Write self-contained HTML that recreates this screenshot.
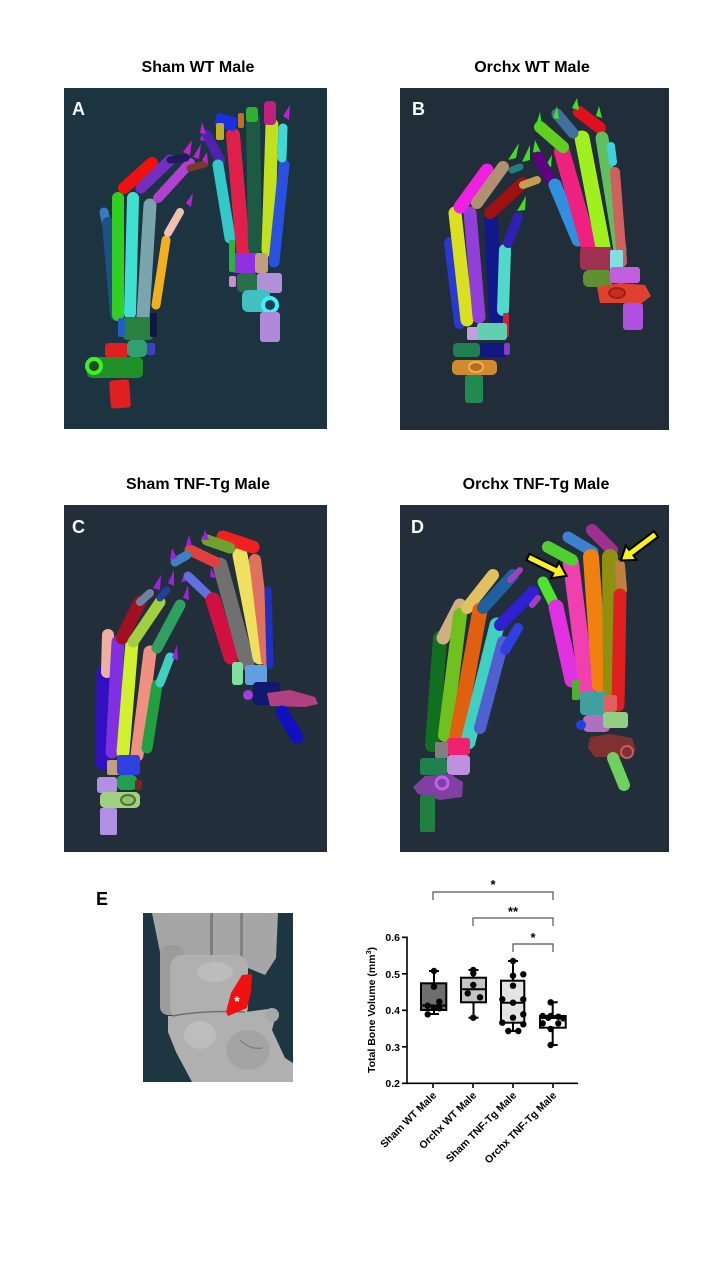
<!DOCTYPE html>
<html><head><meta charset="utf-8"><style>
html,body{margin:0;padding:0;background:#fff;}
svg{display:block;}
.t{font-family:"Liberation Sans",Arial,sans-serif;font-weight:bold;}
.b line{stroke-linecap:round;}
</style></head><body>
<svg width="720" height="1280" viewBox="0 0 720 1280" xmlns="http://www.w3.org/2000/svg">
<rect width="720" height="1280" fill="#fff"/>
<!-- Titles -->
<g class="t" font-size="16" text-anchor="middle" fill="#000">
<text x="198" y="72">Sham WT Male</text>
<text x="532" y="72">Orchx WT Male</text>
<text x="198" y="489">Sham TNF-Tg Male</text>
<text x="536" y="489">Orchx TNF-Tg Male</text>
</g>

<!-- Panel A -->
<rect x="64" y="88" width="263" height="341" fill="#1c3340"/>
<g class="b">
<line x1="104" y1="212" x2="107" y2="226" stroke="#3a7ac0" stroke-width="9"/>
<line x1="108" y1="223" x2="116" y2="315" stroke="#1f4f86" stroke-width="12"/>
<line x1="118" y1="198" x2="118" y2="315" stroke="#30d020" stroke-width="12"/>
<line x1="133" y1="198" x2="130" y2="313" stroke="#40e0d0" stroke-width="12"/>
<line x1="150" y1="205" x2="143" y2="317" stroke="#7aa5ad" stroke-width="13"/>
<line x1="166" y1="240" x2="156" y2="305" stroke="#f0b020" stroke-width="9"/>
<line x1="180" y1="212" x2="168" y2="233" stroke="#f0c0b0" stroke-width="8"/>
<line x1="152" y1="163" x2="124" y2="188" stroke="#f01010" stroke-width="12"/>
<line x1="170" y1="160" x2="141" y2="188" stroke="#7030c0" stroke-width="11"/>
<line x1="190" y1="163" x2="158" y2="198" stroke="#b040d0" stroke-width="10"/>
<line x1="205" y1="164" x2="190" y2="168" stroke="#7a3a2a" stroke-width="7"/>
<line x1="186" y1="158" x2="170" y2="160" stroke="#201860" stroke-width="7"/>
<polygon points="183,152 192,140 190,155" fill="#c020d0"/>
<polygon points="193,157 201,144 199,159" fill="#c020d0"/>
<polygon points="200,140 204,128 208,142" fill="#c020d0"/>
<polygon points="186,203 193,193 191,207" fill="#c020d0"/>
<polygon points="202,160 207,152 208,164" fill="#c020d0"/>
<rect x="123" y="317" width="30" height="23" rx="4" fill="#2a8040"/>
<rect x="150" y="313" width="7" height="24" rx="2" fill="#101840"/>
<rect x="118" y="318" width="7" height="19" rx="2" fill="#2060c0"/>
<rect x="147" y="343" width="8" height="12" rx="2" fill="#4040c0"/>
<rect x="105" y="343" width="23" height="15" rx="4" fill="#e02020"/>
<rect x="127" y="340" width="20" height="17" rx="5" fill="#30a070"/>
<rect x="87" y="357" width="56" height="21" rx="5" fill="#20902a"/>
<circle cx="94" cy="366" r="7" fill="#1a4a20" stroke="#40f020" stroke-width="4"/>
<rect x="110" y="380" width="20" height="28" rx="3" fill="#e02020" transform="rotate(-4 120 394)"/>
<!-- right hand A -->
<line x1="207" y1="135" x2="220" y2="160" stroke="#5020b0" stroke-width="10"/>
<line x1="218" y1="165" x2="230" y2="238" stroke="#30c8c8" stroke-width="11"/>
<line x1="233" y1="135" x2="243" y2="250" stroke="#e0204a" stroke-width="14"/>
<line x1="253" y1="118" x2="255" y2="247" stroke="#1c5a44" stroke-width="14"/>
<line x1="272" y1="125" x2="268" y2="250" stroke="#c0e020" stroke-width="13"/>
<line x1="284" y1="165" x2="274" y2="262" stroke="#2a50e0" stroke-width="11"/>
<line x1="283" y1="128" x2="282" y2="158" stroke="#40d8d8" stroke-width="9"/>
<rect x="215" y="115" width="22" height="14" rx="3" fill="#1830e0" transform="rotate(15 226 122)"/>
<rect x="216" y="123" width="8" height="17" rx="2" fill="#c0b020"/>
<rect x="264" y="101" width="12" height="24" rx="4" fill="#c02080"/>
<rect x="246" y="107" width="12" height="15" rx="3" fill="#30b030"/>
<rect x="238" y="113" width="6" height="15" rx="2" fill="#c07020"/>
<polygon points="283,116 290,105 289,120" fill="#c020d0"/>
<polygon points="200,133 202,122 206,134" fill="#c020d0"/>
<rect x="232" y="253" width="28" height="20" rx="3" fill="#9030e0"/>
<rect x="255" y="253" width="13" height="20" rx="3" fill="#c0a080"/>
<rect x="229" y="240" width="6" height="32" rx="2" fill="#30b040"/>
<rect x="237" y="273" width="20" height="19" rx="4" fill="#2a6e4a"/>
<rect x="257" y="273" width="25" height="20" rx="3" fill="#b090d8"/>
<rect x="229" y="276" width="7" height="11" rx="2" fill="#c090d0"/>
<rect x="242" y="290" width="28" height="22" rx="6" fill="#40c0c0"/>
<circle cx="270" cy="305" r="7" fill="#1a4050" stroke="#40f0ff" stroke-width="4"/>
<rect x="260" y="312" width="20" height="30" rx="3" fill="#b08ad8"/>
</g>
<text class="t" x="72" y="115" font-size="18" fill="#fff">A</text>

<!-- Panel B -->
<rect x="400" y="88" width="269" height="342" fill="#212d39"/>
<g class="b">
<line x1="450" y1="243" x2="460" y2="323" stroke="#2838d0" stroke-width="12"/>
<line x1="455" y1="213" x2="467" y2="320" stroke="#d8e020" stroke-width="13"/>
<line x1="470" y1="213" x2="479" y2="317" stroke="#9040d8" stroke-width="13"/>
<line x1="491" y1="220" x2="496" y2="318" stroke="#10188a" stroke-width="14"/>
<line x1="505" y1="250" x2="503" y2="310" stroke="#50d8c8" stroke-width="12"/>
<line x1="518" y1="217" x2="508" y2="243" stroke="#3020b0" stroke-width="10"/>
<line x1="487" y1="170" x2="460" y2="207" stroke="#f020e0" stroke-width="13"/>
<line x1="503" y1="167" x2="477" y2="203" stroke="#b09070" stroke-width="12"/>
<line x1="523" y1="183" x2="490" y2="213" stroke="#a01010" stroke-width="12"/>
<line x1="537" y1="180" x2="523" y2="185" stroke="#c0a050" stroke-width="8"/>
<line x1="520" y1="167" x2="512" y2="170" stroke="#208080" stroke-width="7"/>
<polygon points="508,160 519,143 516,158" fill="#40e020"/>
<polygon points="522,162 530,145 530,160" fill="#40e020"/>
<polygon points="535,140 542,155 533,152" fill="#40e020"/>
<polygon points="517,211 526,196 525,210" fill="#40e020"/>
<polygon points="546,165 552,155 551,167" fill="#40e020"/>
<rect x="503" y="313" width="6" height="24" rx="2" fill="#d02040"/>
<rect x="467" y="327" width="13" height="13" rx="2" fill="#c0a0e0"/>
<rect x="477" y="323" width="30" height="17" rx="3" fill="#60d0b0"/>
<rect x="453" y="343" width="27" height="14" rx="4" fill="#208050"/>
<rect x="480" y="343" width="27" height="14" rx="3" fill="#101880"/>
<rect x="504" y="343" width="6" height="12" rx="2" fill="#8040c0"/>
<rect x="452" y="360" width="45" height="15" rx="5" fill="#d08a30"/>
<ellipse cx="476" cy="367" rx="7" ry="5" fill="#b07020" stroke="#f0b050" stroke-width="2"/>
<rect x="465" y="375" width="18" height="28" rx="3" fill="#208a50"/>
<!-- right B -->
<line x1="538" y1="157" x2="550" y2="178" stroke="#600080" stroke-width="11"/>
<line x1="555" y1="185" x2="578" y2="240" stroke="#3090e0" stroke-width="13"/>
<line x1="562" y1="152" x2="590" y2="250" stroke="#f02080" stroke-width="16"/>
<line x1="540" y1="127" x2="563" y2="147" stroke="#60d020" stroke-width="12"/>
<line x1="582" y1="138" x2="603" y2="247" stroke="#a0f020" stroke-width="15"/>
<line x1="557" y1="114" x2="573" y2="133" stroke="#4070a0" stroke-width="11"/>
<line x1="579" y1="112" x2="600" y2="128" stroke="#e01020" stroke-width="12"/>
<line x1="602" y1="138" x2="620" y2="250" stroke="#60c060" stroke-width="13"/>
<line x1="611" y1="146" x2="613" y2="162" stroke="#40d0e0" stroke-width="8"/>
<line x1="615" y1="172" x2="622" y2="262" stroke="#d06060" stroke-width="10"/>
<polygon points="536,125 540,112 542,126" fill="#40e020"/>
<polygon points="553,118 557,106 559,119" fill="#40e020"/>
<polygon points="572,108 577,98 579,110" fill="#40e020"/>
<polygon points="596,116 599,106 602,118" fill="#40e020"/>
<rect x="580" y="247" width="33" height="23" rx="4" fill="#a03050"/>
<rect x="610" y="250" width="13" height="20" rx="2" fill="#80e0e0"/>
<rect x="583" y="270" width="30" height="17" rx="6" fill="#609030"/>
<rect x="610" y="267" width="30" height="16" rx="3" fill="#c060e0"/>
<polygon points="597,287 620,283 645,285 651,296 642,303 600,303" fill="#e04030"/>
<ellipse cx="617" cy="293" rx="8" ry="5" fill="#c03020" stroke="#a02010" stroke-width="2"/>
<rect x="623" y="303" width="20" height="27" rx="3" fill="#b050e0"/>
</g>
<text class="t" x="412" y="115" font-size="18" fill="#fff">B</text>

<!-- Panel C -->
<rect x="64" y="505" width="263" height="347" fill="#222f3b"/>
<g class="b">
<line x1="103" y1="672" x2="102" y2="763" stroke="#3010c0" stroke-width="13"/>
<line x1="108" y1="635" x2="107" y2="672" stroke="#f0b0a0" stroke-width="12"/>
<line x1="118" y1="642" x2="112" y2="752" stroke="#8030e0" stroke-width="13"/>
<line x1="132" y1="642" x2="123" y2="752" stroke="#d0f030" stroke-width="13"/>
<line x1="150" y1="652" x2="137" y2="755" stroke="#f09080" stroke-width="13"/>
<line x1="157" y1="685" x2="147" y2="748" stroke="#20a040" stroke-width="11"/>
<line x1="170" y1="657" x2="160" y2="683" stroke="#40d0c0" stroke-width="9"/>
<line x1="140" y1="602" x2="122" y2="638" stroke="#a01020" stroke-width="13"/>
<line x1="150" y1="593" x2="140" y2="602" stroke="#7080a0" stroke-width="8"/>
<line x1="160" y1="602" x2="133" y2="642" stroke="#a0d040" stroke-width="11"/>
<line x1="167" y1="590" x2="160" y2="598" stroke="#2040a0" stroke-width="7"/>
<line x1="180" y1="605" x2="157" y2="648" stroke="#30a060" stroke-width="11"/>
<polygon points="153,588 161,575 160,590" fill="#a020e0"/>
<polygon points="168,583 174,570 174,586" fill="#a020e0"/>
<polygon points="183,598 188,585 189,600" fill="#a020e0"/>
<polygon points="172,658 177,645 178,660" fill="#a020e0"/>
<polygon points="185,573 181,582 192,580" fill="#a020e0"/>
<rect x="107" y="760" width="13" height="15" rx="2" fill="#c0a080"/>
<rect x="117" y="755" width="23" height="20" rx="3" fill="#3040e0"/>
<rect x="97" y="777" width="20" height="16" rx="3" fill="#b090e0"/>
<rect x="117" y="775" width="20" height="15" rx="5" fill="#20a050"/>
<rect x="135" y="780" width="7" height="10" rx="2" fill="#802020"/>
<rect x="100" y="792" width="40" height="16" rx="5" fill="#a0d080"/>
<ellipse cx="128" cy="800" rx="7" ry="5" fill="#90c070" stroke="#507030" stroke-width="2"/>
<rect x="100" y="808" width="17" height="27" rx="2" fill="#b090e0"/>
<!-- right C -->
<line x1="188" y1="576" x2="210" y2="597" stroke="#6070e0" stroke-width="9"/>
<line x1="213" y1="600" x2="231" y2="657" stroke="#d01040" stroke-width="15"/>
<line x1="220" y1="565" x2="247" y2="663" stroke="#707070" stroke-width="15"/>
<line x1="240" y1="555" x2="260" y2="657" stroke="#f0e060" stroke-width="15"/>
<line x1="255" y1="560" x2="267" y2="660" stroke="#e07060" stroke-width="12"/>
<line x1="268" y1="590" x2="270" y2="665" stroke="#2030c0" stroke-width="7"/>
<line x1="223" y1="537" x2="253" y2="547" stroke="#f02020" stroke-width="13"/>
<line x1="207" y1="540" x2="230" y2="548" stroke="#70a030" stroke-width="11"/>
<line x1="190" y1="550" x2="215" y2="562" stroke="#e04040" stroke-width="11"/>
<line x1="175" y1="562" x2="187" y2="555" stroke="#4080c0" stroke-width="9"/>
<polygon points="170,560 172,548 177,558" fill="#a020e0"/>
<polygon points="186,545 189,535 192,546" fill="#a020e0"/>
<polygon points="202,540 205,530 209,540" fill="#a020e0"/>
<polygon points="211,568 216,578 210,577" fill="#a020e0"/>
<rect x="232" y="662" width="11" height="23" rx="3" fill="#80e0a0"/>
<rect x="245" y="665" width="22" height="20" rx="3" fill="#60a0e0"/>
<circle cx="248" cy="695" r="5" fill="#a040e0"/>
<rect x="253" y="682" width="27" height="23" rx="4" fill="#101870"/>
<polygon points="267,693 290,690 315,697 318,704 305,707 270,706" fill="#b04080"/>
<line x1="282" y1="712" x2="297" y2="737" stroke="#1010c0" stroke-width="13"/>
</g>
<text class="t" x="72" y="533" font-size="18" fill="#fff">C</text>

<!-- Panel D -->
<rect x="400" y="505" width="269" height="347" fill="#222e3a"/>
<g class="b">
<line x1="440" y1="638" x2="432" y2="745" stroke="#107020" stroke-width="14"/>
<line x1="460" y1="605" x2="443" y2="638" stroke="#d0b080" stroke-width="13"/>
<line x1="460" y1="615" x2="445" y2="735" stroke="#70c020" stroke-width="14"/>
<line x1="493" y1="575" x2="467" y2="608" stroke="#e0c060" stroke-width="12"/>
<line x1="480" y1="610" x2="457" y2="735" stroke="#e06010" stroke-width="15"/>
<line x1="513" y1="575" x2="483" y2="608" stroke="#2060a0" stroke-width="12"/>
<line x1="497" y1="625" x2="468" y2="742" stroke="#40d0c0" stroke-width="15"/>
<line x1="533" y1="592" x2="500" y2="625" stroke="#3020d0" stroke-width="12"/>
<line x1="503" y1="642" x2="480" y2="728" stroke="#5060d0" stroke-width="12"/>
<line x1="518" y1="628" x2="505" y2="650" stroke="#3040e0" stroke-width="10"/>
<line x1="520" y1="570" x2="510" y2="580" stroke="#a040c0" stroke-width="6"/>
<line x1="538" y1="598" x2="532" y2="605" stroke="#a040c0" stroke-width="6"/>
<rect x="447" y="738" width="23" height="17" rx="3" fill="#f02070"/>
<rect x="435" y="742" width="13" height="16" rx="2" fill="#808080"/>
<rect x="447" y="755" width="23" height="20" rx="4" fill="#c090e0"/>
<rect x="420" y="758" width="27" height="17" rx="3" fill="#208050"/>
<polygon points="413,787 425,776 450,774 463,782 462,797 440,800 418,794" fill="#8040a0"/>
<circle cx="442" cy="783" r="6" fill="#8040a0" stroke="#c060f0" stroke-width="3"/>
<rect x="420" y="795" width="15" height="37" rx="2" fill="#208040"/>
<!-- right D -->
<line x1="543" y1="582" x2="553" y2="602" stroke="#50e030" stroke-width="11"/>
<line x1="556" y1="607" x2="572" y2="680" stroke="#e030e0" stroke-width="15"/>
<line x1="571" y1="563" x2="587" y2="690" stroke="#f040b0" stroke-width="16"/>
<line x1="548" y1="547" x2="572" y2="560" stroke="#50d030" stroke-width="12"/>
<line x1="568" y1="537" x2="593" y2="552" stroke="#4080d0" stroke-width="11"/>
<line x1="591" y1="557" x2="600" y2="685" stroke="#f08010" stroke-width="16"/>
<line x1="592" y1="530" x2="612" y2="550" stroke="#a03090" stroke-width="12"/>
<line x1="610" y1="557" x2="611" y2="690" stroke="#909010" stroke-width="16"/>
<line x1="620" y1="565" x2="622" y2="590" stroke="#c08040" stroke-width="10"/>
<line x1="620" y1="595" x2="618" y2="705" stroke="#e02020" stroke-width="13"/>
<rect x="580" y="692" width="27" height="23" rx="4" fill="#40a0a0"/>
<rect x="603" y="695" width="14" height="17" rx="3" fill="#e06060"/>
<rect x="572" y="680" width="8" height="20" rx="2" fill="#50b030"/>
<rect x="583" y="715" width="27" height="17" rx="5" fill="#b070c0"/>
<rect x="603" y="712" width="25" height="16" rx="3" fill="#90d080"/>
<circle cx="581" cy="725" r="5" fill="#2040e0"/>
<polygon points="590,737 610,734 632,738 636,750 628,757 595,757 588,748" fill="#803030"/>
<circle cx="627" cy="752" r="6" fill="#803030" stroke="#c06060" stroke-width="2"/>
<line x1="613" y1="758" x2="624" y2="785" stroke="#70d060" stroke-width="12"/>
</g>
<!-- arrows -->
<g fill="#f8f020" stroke="#000" stroke-width="2" stroke-linejoin="miter">
<polygon transform="translate(528,557) rotate(26)" points="0,-3.5 30,-3.5 30,-9 43,0 30,9 30,3.5 0,3.5"/>
<polygon transform="translate(656,534) rotate(143)" points="0,-3.5 31,-3.5 31,-9 44,0 31,9 31,3.5 0,3.5"/>
</g>
<text class="t" x="411" y="533" font-size="18" fill="#fff">D</text>

<!-- Panel E -->
<text class="t" x="96" y="905" font-size="18" fill="#000">E</text>
<rect x="143" y="913" width="150" height="169" fill="#1e3641"/>
<g>
<polygon points="152,913 278,913 276,958 265,975 248,968 205,962 172,966 160,952" fill="#a6a6a6"/>
<rect x="180" y="962" width="10" height="14" fill="#2a3a40"/>
<rect x="210" y="913" width="3" height="48" fill="#7e7e7e"/>
<rect x="240" y="913" width="3" height="52" fill="#828282"/>
<rect x="160" y="945" width="24" height="70" rx="8" fill="#9c9c9c"/>
<rect x="170" y="955" width="78" height="64" rx="12" fill="#b0b0b0"/>
<ellipse cx="215" cy="972" rx="18" ry="10" fill="#bcbcbc"/>
<polygon points="168,1016 245,1012 268,1009 276,1015 272,1030 285,1058 293,1063 293,1082 192,1082 176,1052 168,1032" fill="#b0b0b0"/>
<circle cx="272" cy="1015" r="7" fill="#a8a8a8"/>
<ellipse cx="200" cy="1035" rx="16" ry="14" fill="#bdbdbd"/>
<ellipse cx="248" cy="1050" rx="22" ry="20" fill="#a4a4a4"/>
<path d="M172 1016 Q205 1010 245 1012" stroke="#707070" stroke-width="1.5" fill="none"/>
<path d="M240 1040 Q250 1050 262 1048" stroke="#808080" stroke-width="1.5" fill="none"/>
<polygon points="242,975 252,974 251,992 247,1008 228,1016 226,1012 231,993" fill="#f01010"/>
<text class="t" x="237" y="1006" font-size="14" fill="#fff" text-anchor="middle">*</text>
</g>

<!-- Chart -->
<g stroke="#555" stroke-width="1.2" fill="none">
<path d="M433 900 V892 H553 V900"/>
<path d="M473 926 V918 H553 V926"/>
<path d="M513 952 V944 H553 V952"/>
</g>
<g class="t" font-size="13" text-anchor="middle" fill="#000">
<text x="493" y="889">*</text>
<text x="513" y="916">**</text>
<text x="533" y="942">*</text>
</g>
<g stroke="#000" stroke-width="1.6" fill="none">
<path d="M407 936.5 V1083.3 H578"/>
<path d="M402 937.3 H407 M402 973.8 H407 M402 1010.3 H407 M402 1046.8 H407 M402 1083.3 H407"/>
<path d="M433 1083 V1088 M473 1083 V1088 M513 1083 V1088 M553 1083 V1088"/>
</g>
<g class="t" font-size="10.5" text-anchor="end" fill="#000">
<text x="400" y="941">0.6</text>
<text x="400" y="978">0.5</text>
<text x="400" y="1014">0.4</text>
<text x="400" y="1051">0.3</text>
<text x="400" y="1087">0.2</text>
</g>
<text class="t" font-size="10.5" text-anchor="middle" transform="translate(375,1010) rotate(-90)">Total Bone Volume (mm<tspan dy="-4" font-size="7">3</tspan><tspan dy="4">)</tspan></text>
<g class="t" font-size="10.5" text-anchor="end" fill="#000">
<text transform="translate(437,1096) rotate(-45)">Sham WT Male</text>
<text transform="translate(477,1096) rotate(-45)">Orchx WT Male</text>
<text transform="translate(517,1096) rotate(-45)">Sham TNF-Tg Male</text>
<text transform="translate(557,1096) rotate(-45)">Orchx TNF-Tg Male</text>
</g>
<!-- boxes -->
<g stroke="#000" stroke-width="2">
<line x1="434" y1="971" x2="434" y2="1014"/><line x1="429" y1="971" x2="439" y2="971"/><line x1="429" y1="1014" x2="439" y2="1014"/>
<rect x="421" y="983.3" width="25.3" height="26.7" fill="#6e6e6e"/>
<line x1="421" y1="1005.5" x2="446.3" y2="1005.5"/>
<line x1="473.5" y1="970" x2="473.5" y2="1017.7"/><line x1="468.5" y1="970" x2="478.5" y2="970"/><line x1="468.5" y1="1017.7" x2="478.5" y2="1017.7"/>
<rect x="461" y="977.7" width="25" height="24.6" fill="#c4c4c4"/>
<line x1="461" y1="989.3" x2="486" y2="989.3"/>
<line x1="513" y1="961" x2="513" y2="1031"/><line x1="508" y1="961" x2="518" y2="961"/><line x1="508" y1="1031" x2="518" y2="1031"/>
<rect x="501" y="980.7" width="23.3" height="42" fill="#e4e4e4"/>
<line x1="501" y1="1002.7" x2="524.3" y2="1002.7"/>
<line x1="552.7" y1="1002.3" x2="552.7" y2="1045"/><line x1="547.7" y1="1002.3" x2="557.7" y2="1002.3"/><line x1="547.7" y1="1045" x2="557.7" y2="1045"/>
<rect x="540" y="1016" width="25.7" height="11.7" fill="#fff"/>
<line x1="540" y1="1018" x2="565.7" y2="1018"/>
</g>
<g fill="#000">
<circle cx="434" cy="971" r="3.2"/><circle cx="434" cy="986.7" r="3.2"/><circle cx="427.7" cy="1005.7" r="3.2"/><circle cx="434" cy="1008" r="3.2"/><circle cx="439.3" cy="1001.7" r="3.2"/><circle cx="439.3" cy="1008.3" r="3.2"/><circle cx="427.7" cy="1014.3" r="3.2"/>
<circle cx="473.3" cy="970" r="3.2"/><circle cx="473.3" cy="973.3" r="3.2"/><circle cx="473.3" cy="985" r="3.2"/><circle cx="467.7" cy="993.3" r="3.2"/><circle cx="480" cy="997.3" r="3.2"/><circle cx="473.3" cy="1017.7" r="3.2"/>
<circle cx="513" cy="961" r="3.2"/><circle cx="513" cy="975.7" r="3.2"/><circle cx="523.3" cy="974.3" r="3.2"/><circle cx="513" cy="985.7" r="3.2"/><circle cx="502.3" cy="999.3" r="3.2"/><circle cx="523.3" cy="999.3" r="3.2"/><circle cx="513" cy="1002.7" r="3.2"/><circle cx="502.3" cy="1022.7" r="3.2"/><circle cx="523.3" cy="1024.3" r="3.2"/><circle cx="513" cy="1017.7" r="3.2"/><circle cx="523.3" cy="1014.3" r="3.2"/><circle cx="508.3" cy="1031" r="3.2"/><circle cx="518.3" cy="1031" r="3.2"/>
<circle cx="550.7" cy="1002.3" r="3.2"/><circle cx="542.7" cy="1016" r="3.2"/><circle cx="550.7" cy="1016" r="3.2"/><circle cx="558.3" cy="1016.7" r="3.2"/><circle cx="563.3" cy="1018.3" r="3.2"/><circle cx="542.7" cy="1023.3" r="3.2"/><circle cx="550.7" cy="1029" r="3.2"/><circle cx="558.3" cy="1023.3" r="3.2"/><circle cx="550.7" cy="1045" r="3.2"/><circle cx="548.3" cy="1017.7" r="3.2"/>
</g>
</svg>
</body></html>
